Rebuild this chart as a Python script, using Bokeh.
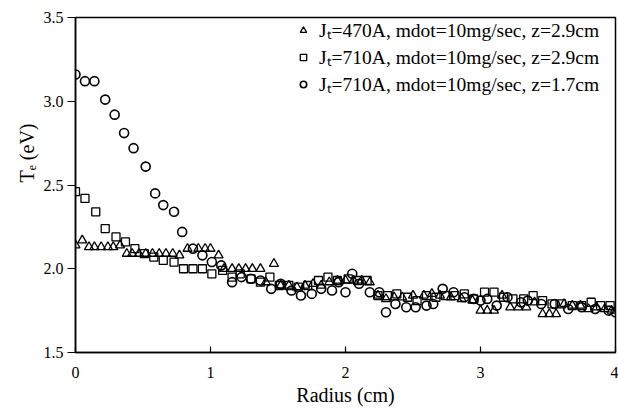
from bokeh.plotting import figure
from bokeh.models import Range1d, FixedTicker, Legend, LegendItem, NumeralTickFormatter, Title
from bokeh.embed import file_html
from bokeh.resources import INLINE

# Series: Jt=470A, z=2.9cm (triangles)
tri_r = [0.0,0.05,0.1,0.14,0.19,0.24,0.28,0.33,0.38,0.42,0.47,0.52,0.57,0.62,0.67,0.72,0.77,0.83,0.91,0.96,1.0,1.06,1.1,1.16,1.21,1.26,1.31,1.37,1.41,1.47,1.52,1.58,1.64,1.7,1.76,1.82,1.88,1.94,2.0,2.06,2.12,2.18,2.24,2.3,2.36,2.42,2.5,2.58,2.64,2.7,2.78,2.86,2.94,3.0,3.05,3.1,3.16,3.22,3.28,3.34,3.4,3.46,3.51,3.56,3.62,3.68,3.74,3.8,3.86,3.92,3.97]
tri_te = [2.14,2.17,2.13,2.13,2.13,2.13,2.13,2.14,2.09,2.09,2.09,2.09,2.09,2.09,2.09,2.09,2.08,2.12,2.12,2.12,2.12,2.08,2.0,2.0,2.0,2.0,2.0,2.0,1.92,2.03,1.9,1.9,1.89,1.9,1.91,1.9,1.92,1.93,1.93,1.93,1.93,1.92,1.84,1.82,1.83,1.83,1.84,1.84,1.85,1.84,1.83,1.82,1.81,1.75,1.75,1.75,1.84,1.77,1.77,1.77,1.8,1.73,1.73,1.73,1.79,1.78,1.78,1.76,1.77,1.76,1.75]

# Series: Jt=710A, z=2.9cm (squares)
sq_r = [0.0,0.07,0.15,0.22,0.3,0.37,0.44,0.51,0.58,0.65,0.73,0.8,0.87,0.94,1.01,1.09,1.16,1.22,1.3,1.37,1.44,1.51,1.58,1.65,1.72,1.8,1.87,1.94,2.02,2.09,2.16,2.24,2.31,2.38,2.46,2.53,2.6,2.67,2.74,2.81,2.88,2.95,3.03,3.1,3.17,3.24,3.32,3.39,3.46,3.53,3.6,3.68,3.75,3.82,3.89,3.96]
sq_te = [2.46,2.42,2.34,2.24,2.19,2.16,2.12,2.09,2.07,2.05,2.04,2.0,2.0,2.0,1.97,1.99,1.95,1.97,1.94,1.92,1.95,1.9,1.9,1.89,1.9,1.93,1.95,1.93,1.94,1.93,1.93,1.84,1.84,1.85,1.83,1.81,1.84,1.83,1.84,1.84,1.85,1.82,1.86,1.86,1.83,1.82,1.82,1.84,1.81,1.79,1.79,1.78,1.78,1.8,1.78,1.78]

# Series: Jt=710A, z=1.7cm (circles)
ci_r = [0.0,0.07,0.14,0.22,0.29,0.36,0.43,0.52,0.59,0.65,0.73,0.79,0.87,0.94,1.01,1.08,1.16,1.23,1.3,1.37,1.45,1.52,1.6,1.67,1.75,1.82,1.9,1.95,2.0,2.05,2.1,2.18,2.25,2.3,2.37,2.45,2.52,2.6,2.65,2.72,2.8,2.88,2.95,3.0,3.05,3.12,3.2,3.3,3.35,3.45,3.55,3.65,3.75,3.85,3.95,4.0]
ci_te = [3.16,3.12,3.12,3.01,2.92,2.81,2.72,2.61,2.45,2.38,2.34,2.22,2.12,2.08,2.04,2.02,1.92,1.95,1.94,1.93,1.88,1.91,1.87,1.84,1.85,1.88,1.87,1.92,1.86,1.97,1.91,1.86,1.86,1.74,1.79,1.77,1.77,1.78,1.79,1.88,1.86,1.83,1.82,1.81,1.82,1.78,1.83,1.8,1.81,1.79,1.79,1.76,1.77,1.76,1.75,1.74]

x_ticks = [0, 1, 2, 3, 4]
y_ticks = [1.5, 2.0, 2.5, 3.0, 3.5]
labels = ["J\u209c=470A, mdot=10mg/sec, z=2.9cm",
          "J\u209c=710A, mdot=10mg/sec, z=2.9cm",
          "J\u209c=710A, mdot=10mg/sec, z=1.7cm"]
x_title = "Radius (cm)"
y_title = "T\u2091 (eV)"

FONT = "Liberation Serif"

p = figure(width=618, height=411, output_backend="svg", toolbar_location=None,
           x_range=Range1d(0, 4), y_range=Range1d(1.5, 3.5),
           min_border_left=75, min_border_right=3, min_border_top=17, min_border_bottom=59)
p.grid.visible = False
p.outline_line_color = "black"
p.outline_line_width = 1.5
p.background_fill_color = "white"
p.border_fill_color = "white"

r_tri = p.scatter(tri_r, tri_te, marker="triangle", size=9, fill_color=None,
                  line_color="black", line_width=1.3)
r_sq = p.scatter(sq_r, sq_te, marker="square", size=8, fill_color=None,
                 line_color="black", line_width=1.3)
r_ci = p.scatter(ci_r, ci_te, marker="circle", size=9, fill_color=None,
                 line_color="black", line_width=1.6)

for ax in (p.xaxis[0], p.yaxis[0]):
    ax.axis_line_color = "black"
    ax.axis_line_width = 1.5
    ax.major_tick_line_color = "black"
    ax.major_tick_line_width = 1.2
    ax.minor_tick_line_color = None
    ax.major_label_text_font = FONT
    ax.major_label_text_font_size = "16px"
    ax.major_label_text_color = "black"
    ax.axis_label_text_font = FONT
    ax.axis_label_text_font_size = "20px"
    ax.axis_label_text_font_style = "normal"
    ax.axis_label_text_color = "black"

p.xaxis.ticker = FixedTicker(ticks=x_ticks)
p.yaxis.ticker = FixedTicker(ticks=y_ticks)
p.yaxis.formatter = NumeralTickFormatter(format="0.0")
p.xaxis.major_tick_in = 6
p.xaxis.major_tick_out = 0
p.yaxis.major_tick_in = 0
p.yaxis.major_tick_out = 8
p.xaxis.major_label_standoff = 14
p.yaxis.major_label_standoff = 4
p.xaxis.axis_label = x_title
p.xaxis.axis_label_standoff = 3

# y-axis title sits above the frame centre in the reference
p.add_layout(Title(text=y_title, align="left", offset=170, standoff=6,
                   text_font=FONT, text_font_size="20px", text_font_style="normal",
                   text_color="black"), "left")

legend = Legend(items=[LegendItem(label=labels[0], renderers=[r_tri]),
                       LegendItem(label=labels[1], renderers=[r_sq]),
                       LegendItem(label=labels[2], renderers=[r_ci])],
                location=(220, 255), padding=0, margin=0, spacing=0,
                glyph_width=16, glyph_height=20, label_height=20, label_standoff=8,
                border_line_color=None, background_fill_alpha=0,
                label_text_font=FONT, label_text_font_size="19.5px", label_text_color="black")
p.add_layout(legend, "center")

open("out.html", "w").write(file_html(p, INLINE))
